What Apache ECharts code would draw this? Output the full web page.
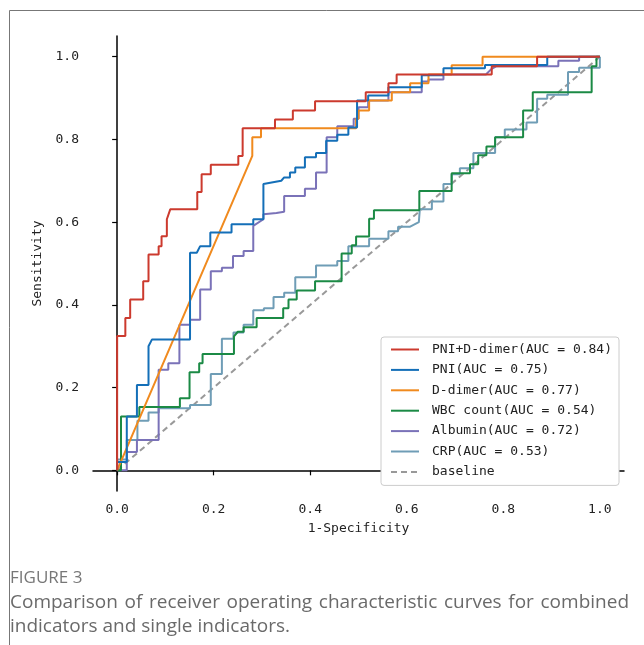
<!DOCTYPE html>
<html><head><meta charset="utf-8">
<script src="https://cdn.jsdelivr.net/npm/echarts@6/dist/echarts.min.js"></script>
<style>html,body{margin:0;padding:0;background:#fff}#c{width:644px;height:645px}</style>
</head><body><div id="c"></div>
<script>
// ---- data ----
const curveNames = ['PNI+D-dimer', 'PNI', 'D-dimer', 'WBC count', 'Albumin', 'CRP'];
const aucValues = [0.84, 0.75, 0.77, 0.54, 0.72, 0.53];
const tickValues = [0, 0.2, 0.4, 0.6, 0.8, 1.0];

const rocPniDdimer = [[0,0],[0,0.325],[0.017,0.325],[0.017,0.368],[0.027,0.368],[0.027,0.413],[0.054,0.413],[0.054,0.457],[0.065,0.457],[0.065,0.522],[0.086,0.522],[0.086,0.542],[0.092,0.542],[0.092,0.566],[0.103,0.566],[0.103,0.607],[0.11,0.631],[0.166,0.631],[0.166,0.673],[0.175,0.673],[0.175,0.716],[0.194,0.716],[0.194,0.739],[0.251,0.739],[0.251,0.760],[0.260,0.760],[0.260,0.827],[0.327,0.827],[0.327,0.848],[0.364,0.848],[0.364,0.870],[0.41,0.870],[0.41,0.892],[0.515,0.892],[0.515,0.914],[0.562,0.914],[0.562,0.936],[0.579,0.936],[0.579,0.957],[0.776,0.957],[0.776,0.977],[0.870,0.977],[0.870,1.0],[1,1]];

const rocPni = [[0,0],[0,0.02],[0.02,0.02],[0.02,0.13],[0.041,0.13],[0.041,0.206],[0.065,0.206],[0.065,0.30],[0.072,0.316],[0.151,0.316],[0.151,0.526],[0.165,0.526],[0.172,0.542],[0.193,0.542],[0.193,0.575],[0.237,0.575],[0.237,0.595],[0.282,0.595],[0.282,0.607],[0.303,0.607],[0.303,0.692],[0.34,0.70],[0.346,0.708],[0.358,0.708],[0.358,0.72],[0.369,0.72],[0.369,0.732],[0.389,0.732],[0.389,0.757],[0.412,0.757],[0.412,0.767],[0.433,0.767],[0.433,0.797],[0.456,0.797],[0.456,0.811],[0.479,0.811],[0.479,0.829],[0.497,0.829],[0.497,0.894],[0.52,0.894],[0.52,0.906],[0.562,0.906],[0.562,0.926],[0.631,0.926],[0.631,0.955],[0.676,0.955],[0.676,0.972],[0.762,0.972],[0.762,0.98],[0.891,0.98],[0.891,1.0],[1,1]];

const rocDdimer = [[0,0],[0.28,0.76],[0.28,0.805],[0.298,0.805],[0.298,0.827],[0.495,0.827],[0.495,0.85],[0.5,0.85],[0.5,0.87],[0.522,0.87],[0.522,0.894],[0.569,0.894],[0.569,0.914],[0.607,0.914],[0.607,0.936],[0.645,0.936],[0.645,0.957],[0.693,0.957],[0.693,0.979],[0.757,0.979],[0.757,1.0],[1,1]];

const rocWbc = [[0,0],[0.008,0],[0.008,0.13],[0.046,0.13],[0.046,0.153],[0.13,0.153],[0.13,0.174],[0.15,0.174],[0.15,0.237],[0.17,0.237],[0.17,0.259],[0.177,0.259],[0.177,0.281],[0.242,0.281],[0.242,0.324],[0.25,0.335],[0.262,0.335],[0.262,0.346],[0.289,0.346],[0.289,0.368],[0.344,0.368],[0.344,0.392],[0.355,0.392],[0.355,0.413],[0.372,0.413],[0.372,0.435],[0.41,0.435],[0.41,0.457],[0.465,0.457],[0.465,0.524],[0.486,0.524],[0.486,0.544],[0.495,0.544],[0.495,0.565],[0.522,0.565],[0.522,0.608],[0.532,0.608],[0.532,0.629],[0.626,0.629],[0.626,0.675],[0.693,0.675],[0.693,0.718],[0.731,0.718],[0.731,0.74],[0.748,0.74],[0.748,0.762],[0.765,0.762],[0.765,0.783],[0.783,0.783],[0.783,0.805],[0.841,0.805],[0.841,0.87],[0.861,0.87],[0.861,0.914],[0.983,0.914],[0.983,0.977],[0.993,0.977],[0.993,1.0],[1,1]];

const rocAlbumin = [[0,0],[0.02,0],[0.02,0.044],[0.041,0.044],[0.041,0.073],[0.086,0.073],[0.086,0.243],[0.106,0.243],[0.106,0.259],[0.129,0.259],[0.129,0.352],[0.151,0.352],[0.151,0.364],[0.172,0.364],[0.172,0.437],[0.194,0.437],[0.194,0.481],[0.217,0.481],[0.217,0.49],[0.24,0.49],[0.24,0.518],[0.262,0.518],[0.262,0.53],[0.282,0.53],[0.282,0.591],[0.303,0.607],[0.303,0.619],[0.33,0.622],[0.346,0.625],[0.346,0.663],[0.389,0.663],[0.389,0.681],[0.412,0.681],[0.412,0.72],[0.434,0.72],[0.434,0.805],[0.456,0.805],[0.456,0.832],[0.49,0.832],[0.49,0.85],[0.5,0.85],[0.5,0.878],[0.52,0.878],[0.52,0.894],[0.562,0.894],[0.562,0.914],[0.631,0.914],[0.631,0.94],[0.645,0.94],[0.645,0.945],[0.676,0.945],[0.676,0.957],[0.764,0.957],[0.775,0.97],[0.786,0.977],[0.914,0.977],[0.914,0.99],[0.957,0.99],[0.957,1.0],[1,1]];

const rocCrp = [[0,0],[0,0.026],[0.02,0.026],[0.02,0.073],[0.042,0.073],[0.042,0.12],[0.065,0.12],[0.065,0.14],[0.086,0.14],[0.086,0.15],[0.151,0.15],[0.151,0.158],[0.194,0.158],[0.194,0.233],[0.217,0.233],[0.217,0.318],[0.241,0.318],[0.241,0.333],[0.262,0.333],[0.262,0.352],[0.282,0.352],[0.282,0.387],[0.304,0.387],[0.304,0.392],[0.324,0.392],[0.324,0.419],[0.346,0.419],[0.346,0.429],[0.369,0.429],[0.369,0.467],[0.412,0.467],[0.412,0.495],[0.456,0.495],[0.456,0.506],[0.479,0.506],[0.479,0.542],[0.522,0.542],[0.522,0.56],[0.562,0.56],[0.562,0.578],[0.582,0.578],[0.582,0.589],[0.607,0.589],[0.625,0.60],[0.627,0.631],[0.652,0.631],[0.652,0.65],[0.676,0.65],[0.676,0.692],[0.693,0.692],[0.693,0.716],[0.71,0.716],[0.71,0.73],[0.738,0.73],[0.738,0.767],[0.783,0.767],[0.783,0.805],[0.803,0.805],[0.803,0.824],[0.848,0.824],[0.848,0.841],[0.87,0.841],[0.87,0.898],[0.891,0.898],[0.891,0.908],[0.934,0.908],[0.934,0.963],[0.957,0.963],[0.957,0.973],[1.0,0.973],[1,1]];

const baselinePoints = [[0,0],[1,1]];
const baselineName = 'baseline';

const xAxisTitle = '1-Specificity';
const yAxisTitle = 'Sensitivity';
const captionLabel = 'FIGURE 3';
const captionLines = ['Comparison of receiver operating characteristic curves for combined', 'indicators and single indicators.'];

// ---- styling ----
const curveData = [rocPniDdimer, rocPni, rocDdimer, rocWbc, rocAlbumin, rocCrp];
const curveColors = ['#cc3a2e', '#146fb8', '#f08a1e', '#1b8a45', '#7a72b8', '#6f9db6'];
const mono = '"DejaVu Sans Mono", monospace';

const chart = echarts.init(document.getElementById('c'), null, {renderer: 'canvas'});

const series = curveData.map((d, i) => ({
  name: `${curveNames[i]}(AUC = ${aucValues[i].toFixed(2)})`,
  type: 'line', data: d, symbol: 'none', silent: true,
  lineStyle: {color: curveColors[i], width: 2},
  itemStyle: {color: curveColors[i]},
  z: 10 - i
}));
series.push({
  name: baselineName, type: 'line', data: baselinePoints, symbol: 'none', silent: true,
  lineStyle: {color: '#999999', width: 2, type: [6, 4]}, itemStyle: {color: '#999999'}, z: 1
});

// justified caption via measured word widths
const ctx = document.createElement('canvas').getContext('2d');
const capFont = '19px "Open Sans"';
ctx.font = capFont;
const capGraphics = [];
const capLeft = 10, capRight = 629;
const capColor = '#6a6a6a';
captionLines.forEach((line, li) => {
  const y = 603 + li * 24;
  if (li === captionLines.length - 1) {
    capGraphics.push({type: 'text', x: capLeft, y: y, style: {text: line, font: capFont, fill: capColor, verticalAlign: 'middle'}});
    return;
  }
  const words = line.split(' ');
  const widths = words.map(w => ctx.measureText(w).width);
  const total = widths.reduce((a, b) => a + b, 0);
  const gap = (capRight - capLeft - total) / (words.length - 1);
  let x = capLeft;
  words.forEach((w, wi) => {
    capGraphics.push({type: 'text', x: x, y: y, style: {text: w, font: capFont, fill: capColor, verticalAlign: 'middle'}});
    x += widths[wi] + gap;
  });
});

const axisCommon = {
  type: 'value', min: -0.05, max: 1.05,
  axisLine: {show: true, lineStyle: {color: '#000', width: 1.5}},
  axisTick: {show: true, length: 5, lineStyle: {color: '#000', width: 1.2}, customValues: tickValues},
  axisLabel: {customValues: tickValues, formatter: v => v.toFixed(1), fontFamily: mono, fontSize: 13, color: '#222'},
  splitLine: {show: false},
  nameLocation: 'middle',
  nameTextStyle: {fontFamily: mono, fontSize: 13, color: '#222'}
};

chart.setOption({
  animation: false,
  backgroundColor: '#fff',
  grid: {left: 93, right: 20, top: 36, bottom: 154},
  xAxis: Object.assign({}, axisCommon, {name: xAxisTitle, nameGap: 31, axisLabel: Object.assign({}, axisCommon.axisLabel, {margin: 12})}),
  yAxis: Object.assign({}, axisCommon, {name: yAxisTitle, nameGap: 40, axisLabel: Object.assign({}, axisCommon.axisLabel, {margin: 14})}),
  legend: {
    orient: 'vertical', left: 381, top: 337,
    itemWidth: 28, itemHeight: 14, itemGap: 7.4,
    padding: [6, 7, 7, 9],
    backgroundColor: '#fff', borderColor: '#cccccc', borderWidth: 1, borderRadius: 3,
    itemStyle: {opacity: 0},
    textStyle: {fontFamily: mono, fontSize: 13, color: '#222', padding: [0, 0, 0, 8]},
    data: series.map(s => s.name)
  },
  series: series,
  graphic: [
    {type: 'line', shape: {x1: 9.5, y1: 10.5, x2: 644, y2: 10.5}, style: {stroke: '#777', lineWidth: 1}},
    {type: 'line', shape: {x1: 9.5, y1: 10.5, x2: 9.5, y2: 645}, style: {stroke: '#777', lineWidth: 1}},
    {type: 'text', x: 10, y: 578, style: {text: captionLabel, font: '17px "Open Sans"', fill: '#777', verticalAlign: 'middle'}}
  ].concat(capGraphics)
});
</script>
</body></html>
